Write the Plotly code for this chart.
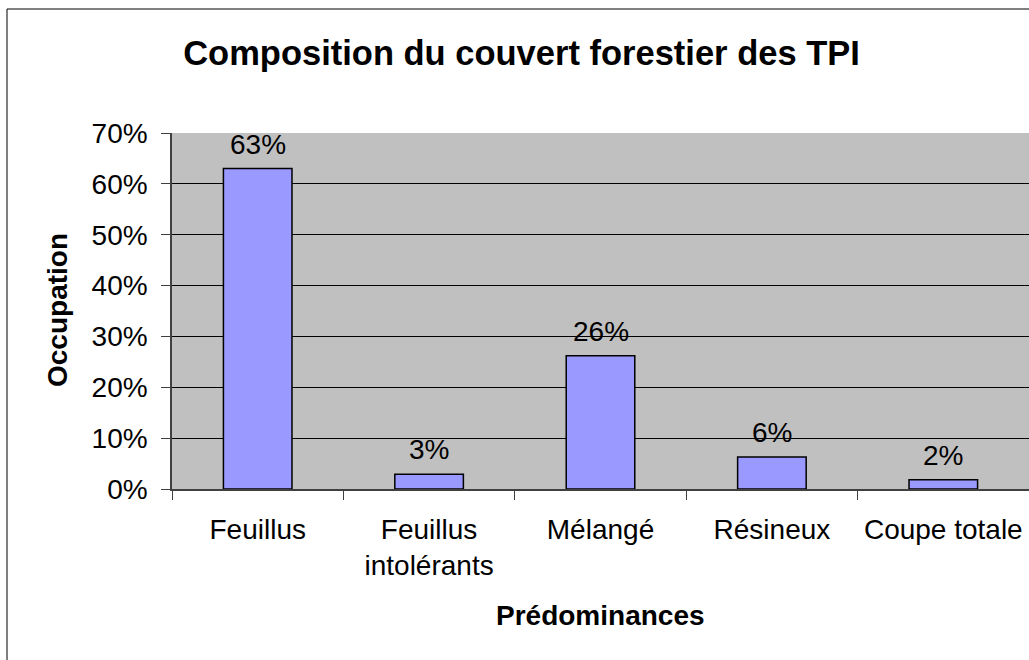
import plotly.graph_objects as go

categories = ["Feuillus", "Feuillus<br>intolérants", "Mélangé", "Résineux", "Coupe totale"]
occupation = [0.63, 0.029, 0.262, 0.063, 0.018]
labels = ["63%", "3%", "26%", "6%", "2%"]
y_ticks = [0, 0.1, 0.2, 0.3, 0.4, 0.5, 0.6, 0.7]
y_ticklabels = ["0%", "10%", "20%", "30%", "40%", "50%", "60%", "70%"]

FONT = "Liberation Sans, Arial, sans-serif"
W, H = 1029, 660
L, R, T, B = 172, 0, 133, 171

fig = go.Figure()
fig.add_trace(go.Bar(
    x=categories, y=occupation, width=0.4,
    marker=dict(color="#9999FF", line=dict(color="black", width=1.5)),
    hoverinfo="skip",
))

pw = W - L - R
ph = H - T - B

label_annotations = [
    dict(x=c, y=v, text=t, xref="x", yref="y", showarrow=False,
         xanchor="center", yanchor="bottom", yshift=7,
         font=dict(family=FONT, size=28, color="black"))
    for c, v, t in zip(categories, occupation, labels)
]

fig.update_layout(
    width=W, height=H,
    margin=dict(l=L, r=R, t=T, b=B, pad=0),
    paper_bgcolor="white", plot_bgcolor="#C0C0C0",
    showlegend=False,
    font=dict(family=FONT, size=28, color="black"),
    title=dict(text="<b>Composition du couvert forestier des TPI</b>",
               font=dict(family=FONT, size=34.5, color="black"),
               x=521.5 / W, xref="container", xanchor="center",
               y=1 - 53 / H, yref="container", yanchor="middle"),
    xaxis=dict(
        type="category", tickson="boundaries", ticks="outside", ticklen=9,
        tickcolor="#404040", tickwidth=1, showgrid=False,
        showline=True, linecolor="#404040", linewidth=2,
        tickfont=dict(family=FONT, size=28, color="black"),
        ticklabelstandoff=14,
    ),
    yaxis=dict(
        range=[0, 0.7], tickvals=y_ticks, ticktext=y_ticklabels,
        ticks="outside", ticklen=9, tickcolor="#404040", tickwidth=1,
        showgrid=True, gridcolor="black", gridwidth=1,
        showline=True, linecolor="#404040", linewidth=1.5,
        zeroline=False,
        tickfont=dict(family=FONT, size=28, color="black"),
        ticklabelstandoff=8,
    ),
    annotations=label_annotations + [
        dict(text="<b>Prédominances</b>", xref="paper", yref="paper",
             x=0.5, y=(489 - 615) / ph, xanchor="center", yanchor="middle",
             showarrow=False, font=dict(family=FONT, size=28, color="black")),
        dict(text="<b>Occupation</b>", xref="paper", yref="paper",
             x=(57 - L) / pw, y=(489 - 310) / ph, xanchor="center", yanchor="middle",
             textangle=-90, showarrow=False,
             font=dict(family=FONT, size=28, color="black")),
    ],
    shapes=[
        dict(type="rect", xref="paper", yref="paper",
             x0=(7 - L) / pw, x1=1.1, y0=-1.0, y1=1 + (T - 9) / ph,
             line=dict(color="black", width=1), fillcolor="rgba(0,0,0,0)",
             layer="below"),
    ],
)

fig.write_html(
    "out.html",
    config={"displayModeBar": False},
    post_script="document.body.style.margin='0';document.body.style.overflow='hidden';",
)
